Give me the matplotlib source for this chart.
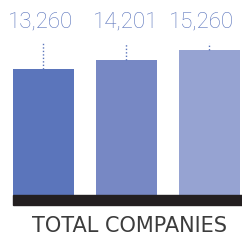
import matplotlib
matplotlib.use("Agg")
import matplotlib.pyplot as plt
from matplotlib.patches import Rectangle
from matplotlib.transforms import blended_transform_factory

values = [13260, 14201, 15260]
labels = ["13,260", "14,201", "15,260"]
colors = ["#5b75bb", "#7788c4", "#96a3d2"]
title = "TOTAL COMPANIES"

fig = plt.figure(figsize=(2.42, 2.43), dpi=100)
ax = fig.add_axes([13/242, 48/243, 229/242, 195/243])

x = range(len(values))
ax.bar(x, values, width=0.735, color=colors)
ax.set_xlim(-0.367, 2.392)
ax.set_ylim(0, 20521)
ax.axis("off")

trans = blended_transform_factory(ax.transData, ax.transAxes)
label_x = [-0.04, -0.01, -0.09]
for i, v in enumerate(values):
    ax.plot([i, i], [v / 20521, 0.78], transform=trans, color="#5b75bb",
            linestyle=(0, (1, 1.5)), linewidth=1.0)
    ax.text(i + label_x[i], 0.888, labels[i], transform=trans, ha="center",
            va="center", fontsize=16, color="#5a74bc",
            family=["Roboto", "DejaVu Sans"], fontweight="light")

# black base strip
fig.patches.append(Rectangle((13/242, 38/243), 229/242, 10/243,
                             transform=fig.transFigure, color="#231f20"))

fig.text(129.5/242, 17/243, title, ha="center", va="center",
         fontsize=15, color="#3c3c3c")

fig.savefig("out.png", dpi=100)
